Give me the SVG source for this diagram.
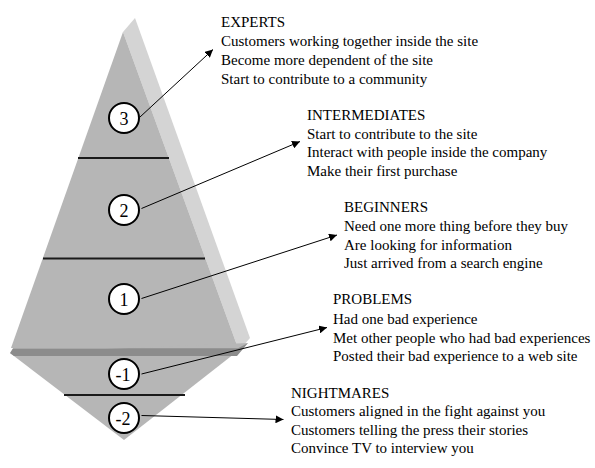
<svg xmlns="http://www.w3.org/2000/svg" width="595" height="468" viewBox="0 0 595 468">
<defs>
<style>
.t{font-family:"Liberation Serif","Times New Roman",serif;font-size:15px;fill:#000}
.n{font-family:"Liberation Serif","Times New Roman",serif;font-size:18px;fill:#000;text-anchor:middle}
.c{fill:#fff;stroke:#000;stroke-width:2}
.lvl{stroke:#1a1a1a;stroke-width:2.2}
.ar{stroke:#000;stroke-width:1;fill:none;marker-end:url(#ah)}
</style>
<marker id="ah" viewBox="0 0 10 10" refX="10" refY="5" markerWidth="8" markerHeight="8" markerUnits="userSpaceOnUse" orient="auto">
<path d="M0,0 L10,5 L0,10 z" fill="#000"/>
</marker>
</defs>
<g id="pyramid">
<polygon points="123,32 135,18 250,338 243,346 238,348" fill="#d4d4d4"/>
<polygon points="123,32 238,348 11,348" fill="#b6b6b6"/>
<polygon points="10,353 248,343 124,440" fill="#b6b6b6"/>
<polygon points="10,353 13,348.3 238,348.3 248,343 237,356 14,356" fill="#8c8c8c"/>
<line class="lvl" x1="78" y1="158" x2="169" y2="158"/>
<line class="lvl" x1="43" y1="258.5" x2="205" y2="258.5"/>
<line class="lvl" x1="64" y1="395" x2="185" y2="395"/>
</g>
<g id="connectors">
<line class="ar" x1="140" y1="117" x2="213" y2="49.5"/>
<line class="ar" x1="141.5" y1="208.5" x2="300" y2="141.5"/>
<line class="ar" x1="141.5" y1="298.5" x2="337" y2="235"/>
<line class="ar" x1="141.5" y1="374" x2="327" y2="327.5"/>
<line class="ar" x1="141.5" y1="415.5" x2="283.5" y2="419.5"/>
</g>
<g id="node-3"><circle class="c" cx="124" cy="118" r="15"/><text class="n" x="124" y="124.5">3</text></g>
<g id="node-2"><circle class="c" cx="124" cy="210" r="15"/><text class="n" x="124" y="216.5">2</text></g>
<g id="node-1"><circle class="c" cx="124" cy="299" r="15"/><text class="n" x="124" y="305.5">1</text></g>
<g id="node-m1"><circle class="c" cx="124" cy="374" r="15"/><text class="n" x="123" y="380.5">-1</text></g>
<g id="node-m2"><circle class="c" cx="124" cy="418" r="15"/><text class="n" x="123" y="424.5">-2</text></g>
<g id="label-experts">
<text class="t" x="221" y="27">EXPERTS</text>
<text class="t" x="221" y="46">Customers working together inside the site</text>
<text class="t" x="221" y="65">Become more dependent of the site</text>
<text class="t" x="221" y="83.5">Start to contribute to a community</text>
</g>
<g id="label-intermediates">
<text class="t" x="307" y="119.5">INTERMEDIATES</text>
<text class="t" x="307" y="138.5">Start to contribute to the site</text>
<text class="t" x="307" y="157">Interact with people inside the company</text>
<text class="t" x="307" y="176">Make their first purchase</text>
</g>
<g id="label-beginners">
<text class="t" x="344" y="212">BEGINNERS</text>
<text class="t" x="344" y="231">Need one more thing before they buy</text>
<text class="t" x="344" y="249.5">Are looking for information</text>
<text class="t" x="344" y="268">Just arrived from a search engine</text>
</g>
<g id="label-problems">
<text class="t" x="333" y="304">PROBLEMS</text>
<text class="t" x="333" y="323.5">Had one bad experience</text>
<text class="t" x="333" y="342.5">Met other people who had bad experiences</text>
<text class="t" x="333" y="361">Posted their bad experience to a web site</text>
</g>
<g id="label-nightmares">
<text class="t" x="291" y="397.5">NIGHTMARES</text>
<text class="t" x="291" y="416">Customers aligned in the fight against you</text>
<text class="t" x="291" y="435">Customers telling the press their stories</text>
<text class="t" x="291" y="453">Convince TV to interview you</text>
</g>
</svg>
